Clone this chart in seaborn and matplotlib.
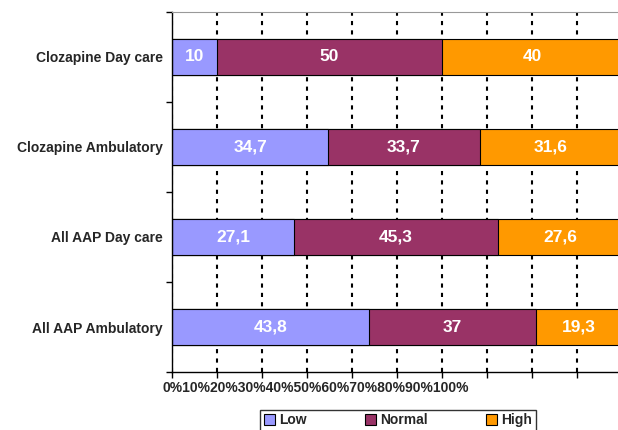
import numpy as np
import pandas as pd
import seaborn as sns
import matplotlib.pyplot as plt
from matplotlib.patches import Patch

groups = ["Clozapine Day care", "Clozapine Ambulatory", "All AAP Day care", "All AAP Ambulatory"]
low = [10, 34.7, 27.1, 43.8]
normal = [50, 33.7, 45.3, 37]
high = [40, 31.6, 27.6, 19.3]
levels = ["Low", "Normal", "High"]
colors = ["#9999FF", "#993366", "#FF9900"]
tick_text = "0%10%20%30%40%50%60%70%80%90%100%"

sns.set_style("white")
plt.rcParams["font.family"] = ["Liberation Sans", "DejaVu Sans"]
plt.rcParams["font.weight"] = "bold"

df = pd.DataFrame({"group": groups, "Low": low, "Normal": normal, "High": high})
# cumulative ends so the stacked segments can be drawn back to front
cum = df[levels].cumsum(axis=1)

fig = plt.figure(figsize=(6.18, 4.30), dpi=100)
ax = fig.add_axes([172 / 618, 58 / 430, 450 / 618, 360 / 430])

for lvl, col in reversed(list(zip(levels, colors))):
    sns.barplot(x=cum[lvl], y=df["group"], orient="h", color=col, width=0.4,
                edgecolor="black", linewidth=0.8, saturation=1, ax=ax)

# value labels in the middle of each segment
for lvl in levels:
    centers = cum[lvl] - df[lvl] / 2
    for i, (c, v) in enumerate(zip(centers, df[lvl])):
        lab = f"{v:g}".replace(".", ",")
        ax.text(c, i, lab, ha="center", va="center", color="white",
                fontsize=12.5, fontweight="bold")

ax.set_xlim(0, 100)
ax.set_ylim(3.5, -0.5)
ax.set_xticks(np.arange(0, 101, 10))
ax.set_xticklabels([])
ax.tick_params(axis="x", direction="out", length=4, width=1, color="black", bottom=True)
ax.set_yticks(range(len(groups)))
ax.set_yticklabels(groups, fontsize=10, fontweight="bold")
ax.set_yticks(np.arange(-0.5, 4, 1), minor=True)
ax.tick_params(axis="y", which="major", length=0, pad=6.5)
ax.tick_params(axis="y", which="minor", left=True, length=4, width=1, color="black")
ax.set_xlabel("")
ax.set_ylabel("")

ax.set_axisbelow(True)
ax.xaxis.grid(True, color="black", linestyle=(0, (2, 2.5)), linewidth=1.5)
ax.yaxis.grid(False)
for s in ["left", "bottom"]:
    ax.spines[s].set_color("black")
    ax.spines[s].set_linewidth(1)
ax.spines["top"].set_color("#999999")
ax.spines["right"].set_visible(False)

fig.text(163 / 618, 1 - 388 / 430, tick_text, ha="left", va="center",
         fontsize=10, fontweight="bold")

handles = [Patch(facecolor=c, edgecolor="black", linewidth=0.8) for c in colors]
leg = fig.legend(handles, levels, loc="upper center", bbox_to_anchor=(398 / 618, 20 / 430),
                 ncol=3, frameon=True, fancybox=False, edgecolor="black",
                 handlelength=0.8, handleheight=0.8, handletextpad=0.3,
                 columnspacing=4.2, borderpad=0.25, borderaxespad=0,
                 prop={"weight": "bold", "size": 10})
leg.get_frame().set_linewidth(1)

fig.savefig("out.png", dpi=100)
